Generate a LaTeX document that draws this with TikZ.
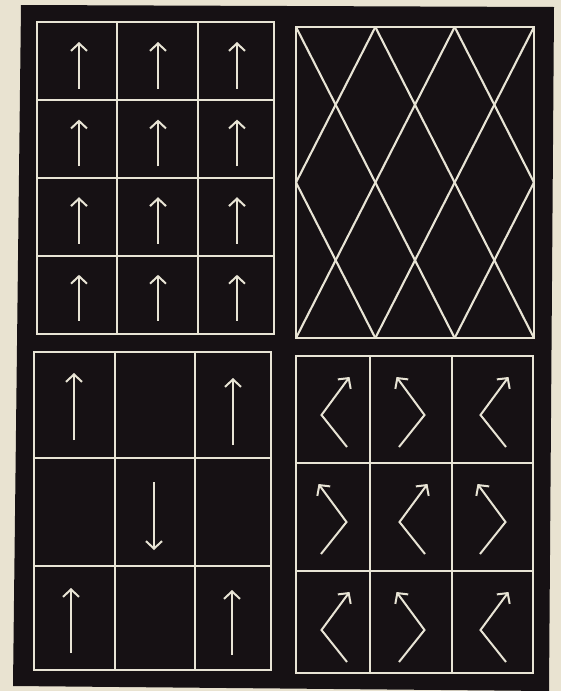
\documentclass[tikz,border=0pt]{standalone}
\usetikzlibrary{arrows.meta}
\definecolor{PaperColor}{RGB}{233,227,209}
\definecolor{BoardColor}{RGB}{22,17,20}
\definecolor{ChalkColor}{RGB}{232,228,213}
\tikzset{
  gridline/.style={draw=ChalkColor,line width=2.1pt},
  flow/.style={draw=ChalkColor,line width=2pt,
    -{Straight Barb[length=7.5pt,width=16pt]}}
}
\begin{document}
\begin{tikzpicture}[x=1pt,y=-1pt]
\useasboundingbox[fill=PaperColor] (0,0) rectangle (561,691);
\fill[BoardColor] (21,5) -- (554,7) -- (549,691) -- (13,686) -- cycle;
% upper left: four rows of upward arrows
\draw[gridline] (37,22) rectangle (274,334);
\foreach \x in {117,198} \draw[gridline] (\x,22) -- (\x,334);
\foreach \y in {100,178,256} \draw[gridline] (37,\y) -- (274,\y);
\foreach \x in {79,158,237}
  \foreach \r in {0,...,3}
    \draw[flow] (\x,{89+77.3*\r}) -- (\x,{42+77.6*\r});
% upper right: lozenge lattice
\begin{scope}[shift={(296,27)},x=79.33pt,y=-155.5pt]
\draw[gridline] (0,0) rectangle (3,2);
\foreach \a/\b in {{(0,1)}/{(1,2)},{(0,0)}/{(2,2)},{(1,0)}/{(3,2)},{(2,0)}/{(3,1)},
                   {(1,0)}/{(0,1)},{(2,0)}/{(0,2)},{(3,0)}/{(1,2)},{(3,1)}/{(2,2)}}
  \draw[gridline] \a -- \b;
\end{scope}
% lower left: alternating arrows
\draw[gridline] (34,352) rectangle (271,670);
\foreach \x in {115,195} \draw[gridline] (\x,352) -- (\x,670);
\foreach \y in {458,566} \draw[gridline] (34,\y) -- (271,\y);
\draw[flow] (74,440) -- (74,373);
\draw[flow] (233,445) -- (233,378);
\draw[flow] (154,482) -- (154,550);
\draw[flow] (71,653) -- (71,588);
\draw[flow] (232,655) -- (232,590);
% lower right: bent arrows
\draw[gridline] (296,356) rectangle (533,673);
\foreach \x in {370,452} \draw[gridline] (\x,356) -- (\x,673);
\foreach \y in {463,571} \draw[gridline] (296,\y) -- (533,\y);
\foreach \x/\y/\s in {333/356/1,411/356/-1,492/356/1,
                      333/463/-1,411/463/1,492/463/-1,
                      333/571/1,411/571/-1,492/571/1}
  \draw[flow] ({\x+1+13*\s},\y+91) -- ({\x+1-12.5*\s},\y+59) -- ({\x+1+15.5*\s},\y+21);
\end{tikzpicture}
\end{document}
